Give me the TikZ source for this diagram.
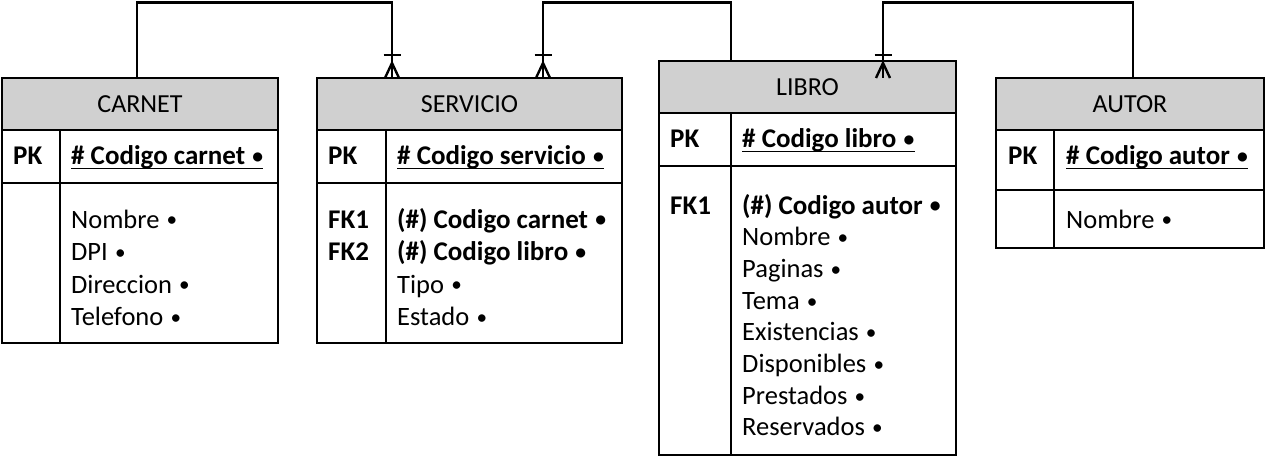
\documentclass[tikz,border=0pt]{standalone}
\usepackage{fontspec}
\usepackage{graphicx}
\setmainfont{Carlito}
\usetikzlibrary{calc}
\definecolor{hdrgray}{RGB}{208,208,208}
\newcommand\bul{\hspace{0.27em}\raisebox{0.04em}{\scalebox{0.8}{•}}}
\newcommand\crowsfoot[1]{%
  \draw[rel] ($(#1)+(-8.5,-23)$) -- ($(#1)+(8.5,-23)$);
  \draw[rel] ($(#1)+(-7,0)$) -- ($(#1)+(0,-15)$) -- ($(#1)+(7,0)$);}
\begin{document}
\begin{tikzpicture}[x=1pt,y=-1pt,
  tb/.style={draw, line width=2pt, inner sep=0pt, outer sep=0pt},
  hdr/.style={tb, fill=hdrgray, font=\fontsize{26}{31}\selectfont},
  txt/.style={anchor=base west, inner sep=0pt, font=\fontsize{26.5}{31}\selectfont},
  btxt/.style={anchor=base west, inner sep=0pt, font=\fontsize{27}{31}\selectfont\bfseries},
  rel/.style={line width=2.4pt},
  ul/.style={line width=1.7pt}]
\useasboundingbox (0,0) rectangle (1265,457);

% ---------- CARNET ----------
\node[hdr, minimum width=276, minimum height=52, anchor=north west] (carnet) at (2,78) {CARNET};
\node[tb, minimum width=276, minimum height=53, anchor=north west] (carnetpk) at (carnet.south west) {};
\node[tb, minimum width=276, minimum height=160, anchor=north west] (carnetbody) at (carnetpk.south west) {};
\draw[tb] ($(carnetpk.north west)+(58,0)$) -- ($(carnetbody.south west)+(58,0)$);
\node[btxt] (carnetpkl) at (13,165) {PK};
\node[btxt] (carnetpka) at (71,165) {\# Codigo carnet\bul};
\draw[ul] ($(carnetpka.base west)+(0,3.5)$) -- ($(carnetpka.base east)+(0,3.5)$);
\node[txt] (carnet1) at (71,228) {Nombre\bul};
\node[txt] (carnet2) at (71,260.5) {DPI\bul};
\node[txt] (carnet3) at (71,293) {Direccion\bul};
\node[txt] (carnet4) at (71,325.5) {Telefono\bul};

% ---------- SERVICIO ----------
\node[hdr, minimum width=305, minimum height=52, anchor=north west] (servicio) at (317,78) {SERVICIO};
\node[tb, minimum width=305, minimum height=53, anchor=north west] (serviciopk) at (servicio.south west) {};
\node[tb, minimum width=305, minimum height=160, anchor=north west] (serviciobody) at (serviciopk.south west) {};
\draw[tb] ($(serviciopk.north west)+(69,0)$) -- ($(serviciobody.south west)+(69,0)$);
\node[btxt] (serviciopkl) at (328,165) {PK};
\node[btxt] (serviciopka) at (397,165) {\# Codigo servicio\bul};
\draw[ul] ($(serviciopka.base west)+(0,3.5)$) -- ($(serviciopka.base east)+(0,3.5)$);
\node[btxt] (serviciofk1) at (328,228) {FK1};
\node[btxt] (serviciofk2) at (328,260.5) {FK2};
\node[btxt] (servicio1) at (397,228) {(\#) Codigo carnet\bul};
\node[btxt] (servicio2) at (397,260.5) {(\#) Codigo libro\bul};
\node[txt] (servicio3) at (397,293) {Tipo\bul};
\node[txt] (servicio4) at (397,325.5) {Estado\bul};

% ---------- LIBRO ----------
\node[hdr, minimum width=297, minimum height=52, anchor=north west] (libro) at (659,61) {LIBRO};
\node[tb, minimum width=297, minimum height=53, anchor=north west] (libropk) at (libro.south west) {};
\node[tb, minimum width=297, minimum height=289, anchor=north west] (librobody) at (libropk.south west) {};
\draw[tb] ($(libropk.north west)+(72,0)$) -- ($(librobody.south west)+(72,0)$);
\node[btxt] (libropkl) at (670,148) {PK};
\node[btxt] (libropka) at (742,148) {\# Codigo libro\bul};
\draw[ul] ($(libropka.base west)+(0,3.5)$) -- ($(libropka.base east)+(0,3.5)$);
\node[btxt] (librofk1) at (670,214) {FK1};
\node[btxt] (libro1) at (742,214) {(\#) Codigo autor\bul};
\node[txt] (libro2) at (742,245.7) {Nombre\bul};
\node[txt] (libro3) at (742,277.4) {Paginas\bul};
\node[txt] (libro4) at (742,309.1) {Tema\bul};
\node[txt] (libro5) at (742,340.8) {Existencias\bul};
\node[txt] (libro6) at (742,372.5) {Disponibles\bul};
\node[txt] (libro7) at (742,404.2) {Prestados\bul};
\node[txt] (libro8) at (742,435.9) {Reservados\bul};

% ---------- AUTOR ----------
\node[hdr, minimum width=268, minimum height=52, anchor=north west] (autor) at (996,78) {AUTOR};
\node[tb, minimum width=268, minimum height=60, anchor=north west] (autorpk) at (autor.south west) {};
\node[tb, minimum width=268, minimum height=58, anchor=north west] (autorbody) at (autorpk.south west) {};
\draw[tb] ($(autorpk.north west)+(58,0)$) -- ($(autorbody.south west)+(58,0)$);
\node[btxt] (autorpkl) at (1008,165) {PK};
\node[btxt] (autorpka) at (1066,165) {\# Codigo autor\bul};
\draw[ul] ($(autorpka.base west)+(0,3.5)$) -- ($(autorpka.base east)+(0,3.5)$);
\node[txt] (autor1) at (1066,228) {Nombre\bul};

% ---------- connectors ----------
\coordinate (s1) at ($(carnet.north west)+(135,0)$);
\coordinate (e1) at ($(servicio.north west)+(75,0)$);
\coordinate (s2) at ($(libro.north west)+(72,0)$);
\coordinate (e2) at ($(servicio.north west)+(226,0)$);
\coordinate (s3) at ($(autor.north west)+(137,0)$);
\coordinate (e3) at ($(libro.north west)+(224,17)$);
\draw[rel] (s1) -- (s1 |- 0,2.5) -| (e1);
\draw[rel] (s2) -- (s2 |- 0,2.5) -| (e2);
\draw[rel] (s3) -- (s3 |- 0,2.5) -| (e3);
\crowsfoot{e1}
\crowsfoot{e2}
\crowsfoot{e3}
\end{tikzpicture}
\end{document}
